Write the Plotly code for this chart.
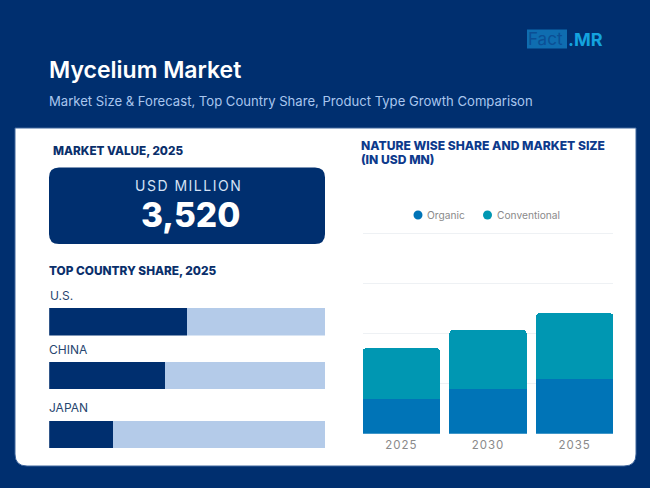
import plotly.graph_objects as go

# ---- data ----
years = ["2025", "2030", "2035"]
organic = [1440, 1850, 2260]
conventional = [2080, 2410, 2700]
countries = ["U.S.", "CHINA", "JAPAN"]
country_share = [50, 42, 23]
country_rest = [50, 58, 77]
market_value = "3,520"

W, H = 650, 488
NAVY = "#002f6f"
FONT = "Inter"


def px(x):
    return x / W


def py(y):
    return 1 - y / H


fig = go.Figure()

# Right: stacked columns
fig.add_trace(go.Bar(x=years, y=organic, name="Organic", marker=dict(color="#0074b7", line_width=0),
                     xaxis="x", yaxis="y", width=0.893, showlegend=False))
fig.add_trace(go.Bar(x=years, y=conventional, name="Conventional", marker=dict(color="#0097b2", line_width=0),
                     xaxis="x", yaxis="y", width=0.893, showlegend=False))

# Left: three share bars, each on its own small axis
rows = [(308, 335.6), (361.5, 389), (420.5, 448)]
axis_ids = [("x2", "y2"), ("x3", "y3"), ("x4", "y4")]
for i, (xa, ya) in enumerate(axis_ids):
    fig.add_trace(go.Bar(y=[countries[i]], x=[country_share[i]], orientation="h", showlegend=False,
                         marker=dict(color="#002f6f", cornerradius=0, line_width=0), xaxis=xa, yaxis=ya, width=1))
    fig.add_trace(go.Bar(y=[countries[i]], x=[country_rest[i]], orientation="h", showlegend=False,
                         marker=dict(color="#b4cbe9", cornerradius=0, line_width=0), xaxis=xa, yaxis=ya, width=1))

layout_axes = {}
for i, (top, bottom) in enumerate(rows):
    n = i + 2
    layout_axes[f"xaxis{n}"] = dict(domain=[px(49.2), px(325.2)], range=[0, 100], visible=False,
                                    anchor=f"y{n}", fixedrange=True)
    layout_axes[f"yaxis{n}"] = dict(domain=[py(bottom), py(top)], visible=False, anchor=f"x{n}",
                                    fixedrange=True)

panel = (f"M {px(15)} {py(128)} L {px(636)} {py(128)} L {px(636)} {py(454)} "
         f"Q {px(636)} {py(466)} {px(624)} {py(466)} L {px(27)} {py(466)} "
         f"Q {px(15)} {py(466)} {px(15)} {py(454)} Z")
card = (f"M {px(59)} {py(167.5)} L {px(315)} {py(167.5)} Q {px(325)} {py(167.5)} {px(325)} {py(177.5)} "
        f"L {px(325)} {py(234)} Q {px(325)} {py(244)} {px(315)} {py(244)} L {px(59)} {py(244)} "
        f"Q {px(49)} {py(244)} {px(49)} {py(234)} L {px(49)} {py(177.5)} Q {px(49)} {py(167.5)} {px(59)} {py(167.5)} Z")


def dot(cx, cy, r, color):
    return dict(type="circle", xref="paper", yref="paper", x0=px(cx - r), x1=px(cx + r),
                y0=py(cy + r), y1=py(cy - r), fillcolor=color, line_width=0, layer="below")


shapes = [
    dict(type="path", path=panel, xref="paper", yref="paper", fillcolor="white",
         line=dict(color="#3f669c", width=1), layer="below"),
    dict(type="path", path=card, xref="paper", yref="paper", fillcolor=NAVY, line_width=0, layer="below"),
    dict(type="rect", xref="paper", yref="paper", x0=px(527), x1=px(567), y0=py(48.5), y1=py(29.5),
         fillcolor="#0f6db0", line_width=0, layer="below"),
    dot(418, 215, 4.5, "#0074b7"),
    dot(487.5, 215, 4.5, "#0097b2"),
]


def label(x, y, text, size, color, anchor="left", weight=400, spacing=None):
    style = f"font-weight:{weight}"
    if spacing:
        style += f";letter-spacing:{spacing}px"
    return dict(x=px(x), y=py(y), xref="paper", yref="paper", text=f'<span style="{style}">{text}</span>',
                showarrow=False, xanchor=anchor, yanchor="middle", align="left", borderpad=0,
                font=dict(size=size, color=color, family=FONT), xshift=-1 if anchor == "left" else 0)


annotations = [
    label(49, 70, "Mycelium Market", 23, "white", weight=600),
    label(49, 100.5, "Market Size &amp; Forecast, Top Country Share, Product Type Growth Comparison", 13.1, "#a9c6ee"),
    label(528, 39, "Fact", 17, "#0b4f95"),
    label(568, 39, ".MR", 18, "#14a3df", weight=700),
    label(53, 150.5, "MARKET VALUE, 2025", 11.7, "#0a2f6b", weight=800),
    label(188, 186, "USD MILLION", 14, "#d5e2f5", anchor="center", spacing=1.5),
    label(190.5, 215, market_value, 33.5, "white", anchor="center", weight=800),
    label(49, 271, "TOP COUNTRY SHARE, 2025", 11.8, "#0a2f6b", weight=800),
    label(49.5, 295, countries[0], 12, "#28466f"),
    label(49, 349.5, countries[1], 12, "#28466f"),
    label(49, 407, countries[2], 12, "#28466f"),
    label(361.5, 145, "NATURE WISE SHARE AND MARKET SIZE", 12.1, "#0d3a8c", weight=800),
    label(361.5, 160, "(IN USD MN)", 12.1, "#0d3a8c", weight=800),
    label(427, 215, "Organic", 10.2, "#8a8a8a"),
    label(497, 215, "Conventional", 10.2, "#8a8a8a"),
]

fig.update_layout(
    width=W, height=H, margin=dict(l=0, r=0, t=0, b=0), autosize=False,
    paper_bgcolor=NAVY, plot_bgcolor="rgba(0,0,0,0)",
    barmode="stack", barcornerradius=4, showlegend=False,
    font=dict(family=FONT),
    xaxis=dict(domain=[px(362.7), px(613.3)], range=[-0.4469, 2.4469], type="category", anchor="y",
               showgrid=False, showline=False, ticks="", fixedrange=True,
               tickmode="array", tickvals=years,
               ticktext=[f'<span style="letter-spacing:1px">{y}</span>' for y in years],
               ticklabelstandoff=3,
               tickfont=dict(size=11.5, color="#8a8a8a", family=FONT)),
    yaxis=dict(domain=[py(433.7), py(228.5)], range=[0, 8433], dtick=2055, showticklabels=False,
               showgrid=True, gridcolor="#eef1f4", gridwidth=1, zeroline=False, anchor="x", fixedrange=True),
    shapes=shapes, annotations=annotations, **layout_axes,
)

fig.write_html("out.html", config=dict(displayModeBar=False), post_script="document.body.style.margin='0';")
